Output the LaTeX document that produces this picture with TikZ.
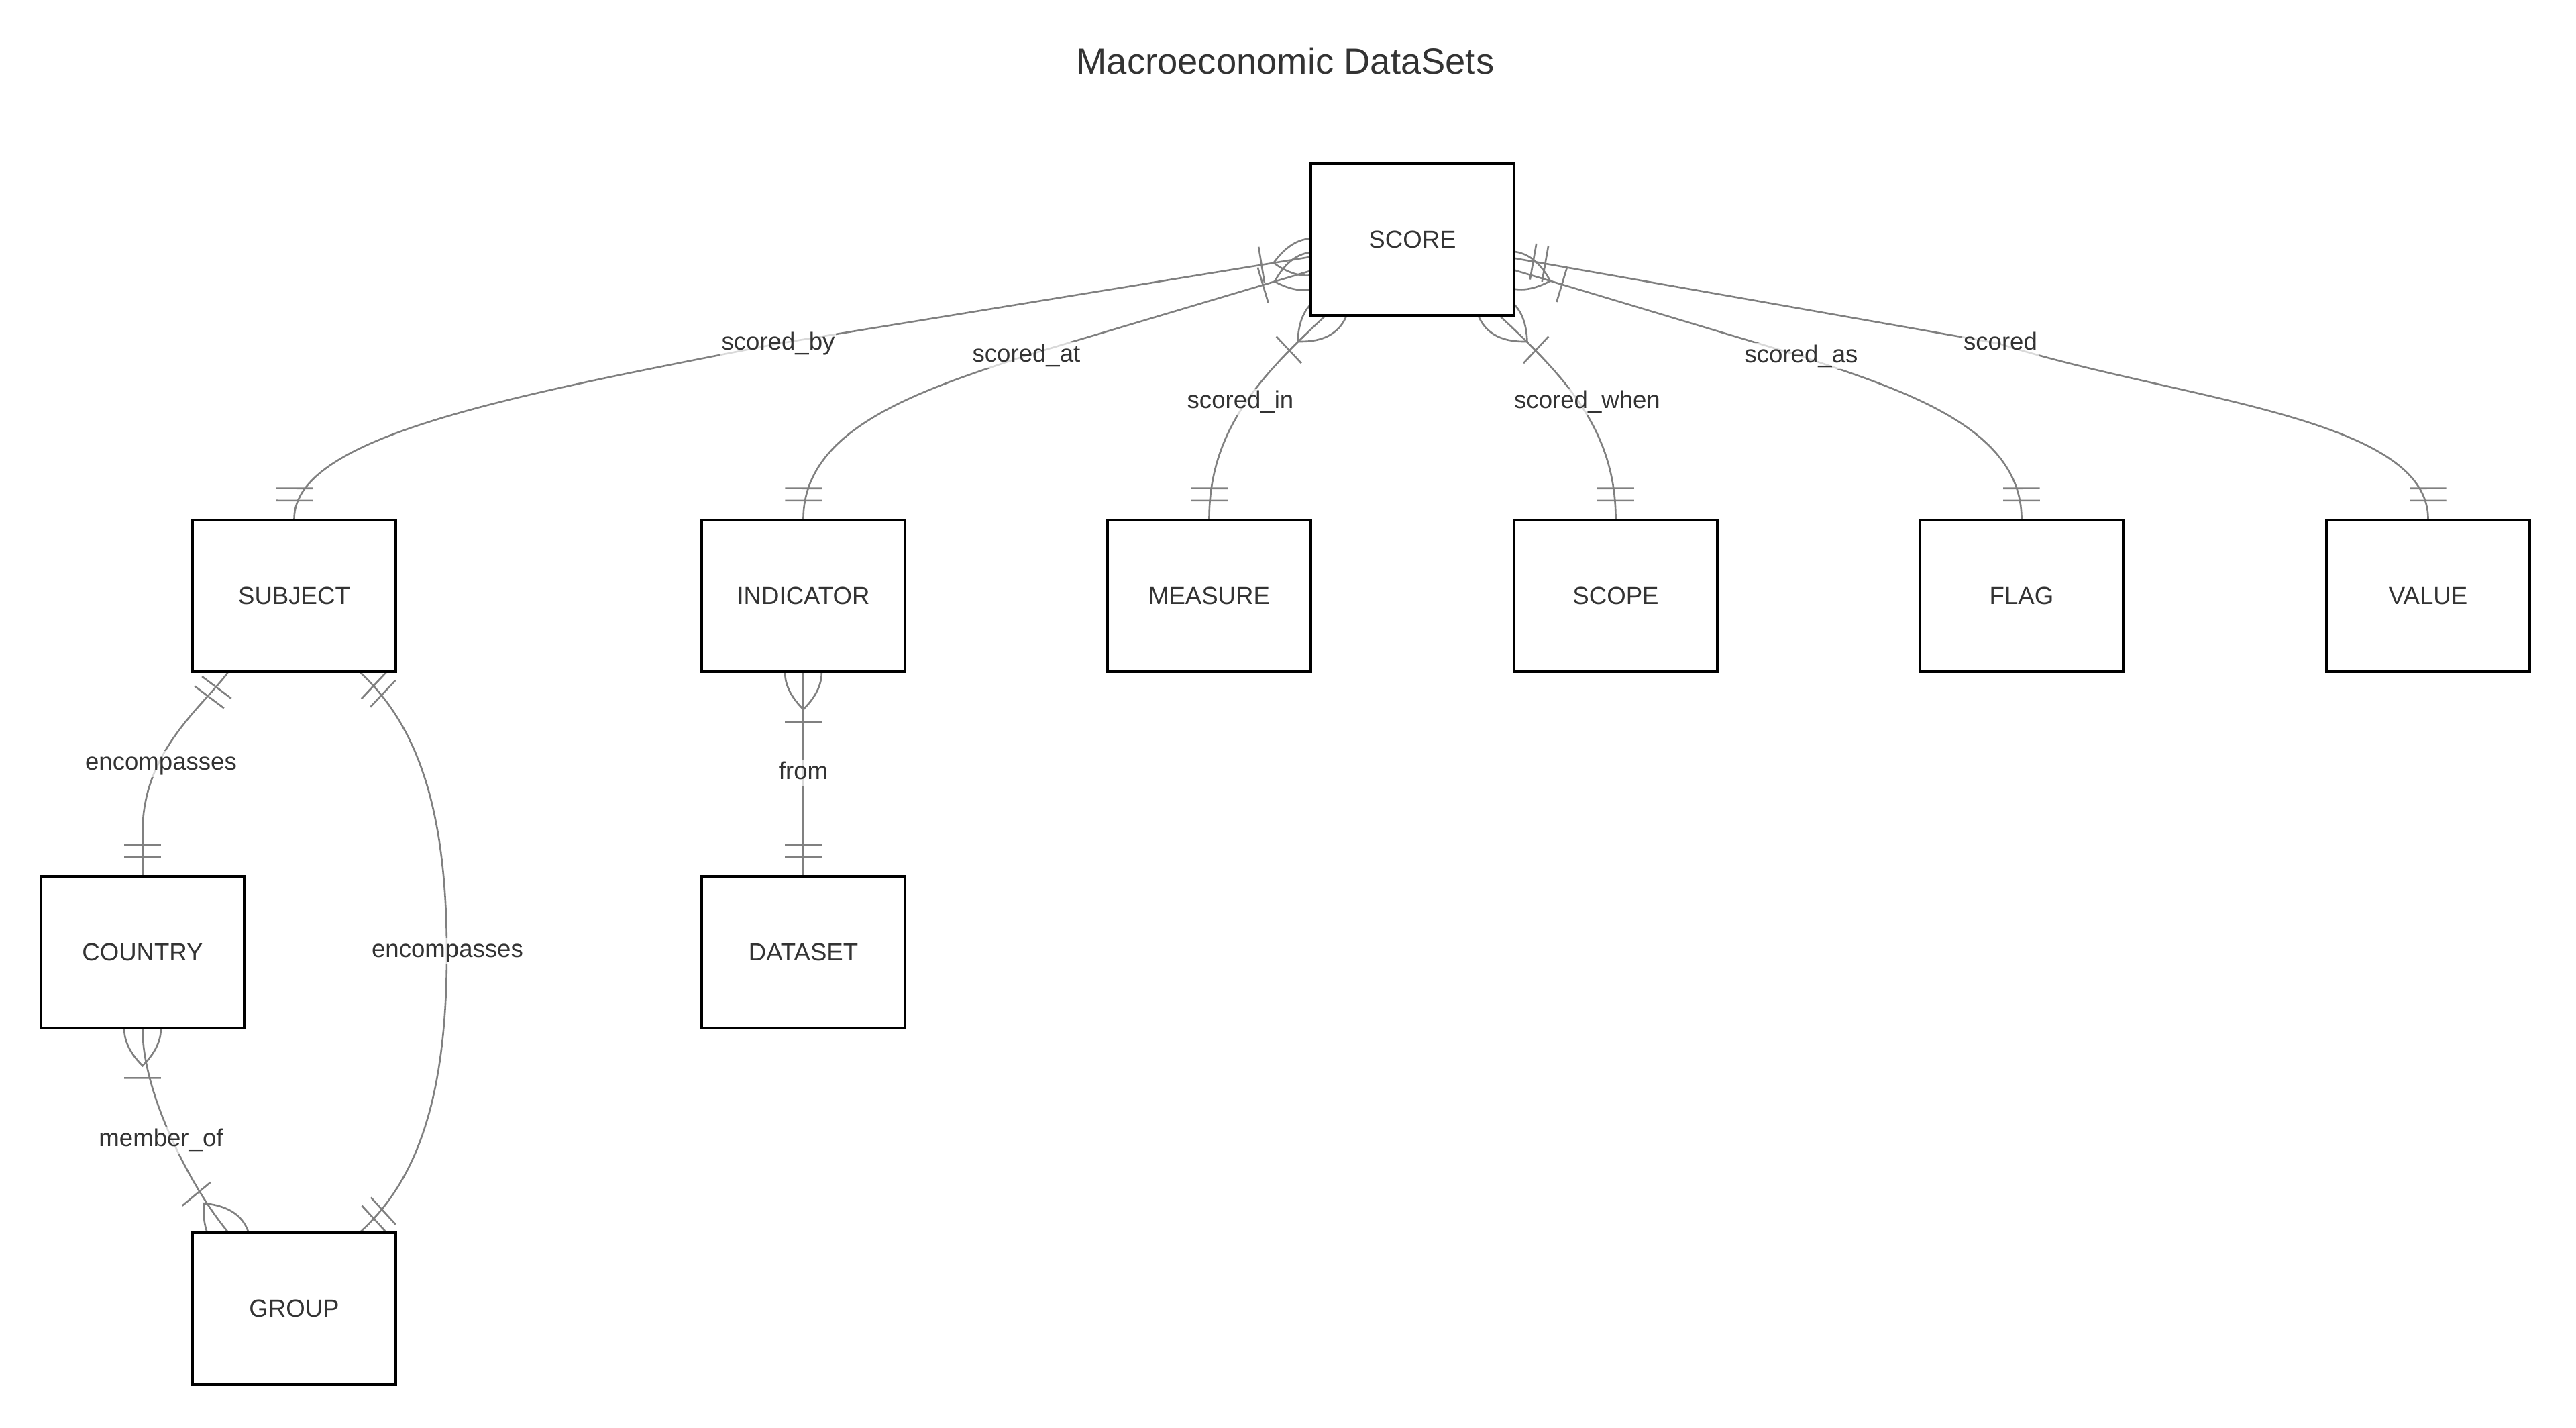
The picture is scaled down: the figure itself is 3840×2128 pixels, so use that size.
\documentclass[tikz,border=0pt]{standalone}
\usepackage{fontspec}
\setmainfont{Liberation Sans}
\usetikzlibrary{calc,decorations.markings}
\pgfdeclarelayer{bg}
\pgfsetlayers{bg,main}
\definecolor{linegray}{HTML}{808080}
\definecolor{txt}{HTML}{333333}
\def\mku{3.03}
\newcommand{\mkmanyS}{\draw[mk] (-18*\mku,0) .. controls (-6*\mku,-12*\mku) and (6*\mku,-12*\mku) .. (18*\mku,0) .. controls (6*\mku,12*\mku) and (-6*\mku,12*\mku) .. cycle; \draw[mk] (24*\mku,-9*\mku) -- (24*\mku,9*\mku);}
\newcommand{\mkmanyE}{\draw[mk] (-18*\mku,0) .. controls (-6*\mku,-12*\mku) and (6*\mku,-12*\mku) .. (18*\mku,0) .. controls (6*\mku,12*\mku) and (-6*\mku,12*\mku) .. cycle; \draw[mk] (-24*\mku,-9*\mku) -- (-24*\mku,9*\mku);}
\newcommand{\mkoneS}{\draw[mk] (9*\mku,-9*\mku) -- (9*\mku,9*\mku) (15*\mku,-9*\mku) -- (15*\mku,9*\mku);}
\newcommand{\mkoneE}{\draw[mk] (-9*\mku,-9*\mku) -- (-9*\mku,9*\mku) (-15*\mku,-9*\mku) -- (-15*\mku,9*\mku);}
\begin{document}
\begin{tikzpicture}[x=0.5pt,y=-0.5pt,
  ent/.style={draw=black, fill=white, line width=1.65pt, minimum width=151.5pt, minimum height=113pt, inner sep=0pt, text=txt, font=\fontsize{18.3pt}{22pt}\selectfont},
  lbl/.style={fill=white, fill opacity=0.7, text opacity=1, text=txt, inner sep=1pt, text height=13.5pt, text depth=4pt, font=\fontsize{18.3pt}{22pt}\selectfont},
  conn/.style={draw=linegray, line width=1.3pt},
  mk/.style={draw=linegray, line width=1.3pt, fill=none},
  mstart/.style={postaction={decorate,decoration={markings,mark=at position 0 with {#1}}}},
  mend/.style={postaction={decorate,decoration={markings,mark=at position -0.1pt with {#1}}}},
]
\useasboundingbox (0,0) rectangle (3840,2128);

\node[font=\fontsize{27.2pt}{32pt}\selectfont, text=txt] (title) at (1916,91) {Macroeconomic DataSets};

\node[ent] (score) at (2105.5,357) {SCORE};
\node[ent] (subject) at (438.5,888) {SUBJECT};
\node[ent] (indicator) at (1197.5,888) {INDICATOR};
\node[ent] (measure) at (1802.5,888) {MEASURE};
\node[ent] (scope) at (2408.5,888) {SCOPE};
\node[ent] (flag) at (3013.5,888) {FLAG};
\node[ent] (value) at (3619.5,888) {VALUE};
\node[ent] (country) at (212.5,1419) {COUNTRY};
\node[ent] (dataset) at (1197.5,1419) {DATASET};
\node[ent] (group) at (438.5,1950) {GROUP};

\begin{pgfonlayer}{bg}
\fill[white] (0,0) rectangle (3840,2128);
\coordinate (sbS) at ($(score.west)+(0,26)$);
\coordinate (saS) at ($(score.west)+(0,47)$);
\coordinate (siS) at ($(score.south west)+(22,0)$);
\coordinate (swS) at ($(score.south east)+(-22,0)$);
\coordinate (sasS) at ($(score.east)+(0,46)$);
\coordinate (scS) at ($(score.east)+(0,28)$);
\coordinate (enlS) at ($(subject.south west)+(54,0)$);
\coordinate (enrS) at ($(subject.south east)+(-54,0)$);
\coordinate (enrE) at ($(group.north east)+(-54,0)$);
\coordinate (memE) at ($(group.north west)+(54,0)$);

\draw[conn, mstart=\mkmanyS, mend=\mkoneE] (sbS) -- (1160,512) .. controls (760,590) and (438.5,650) .. (subject.north);
\draw[conn, mstart=\mkmanyS, mend=\mkoneE] (saS) -- (1529,530) .. controls (1380,580) and (1197.5,635) .. (indicator.north);
\draw[conn, mstart=\mkmanyS, mend=\mkoneE] (siS) .. controls (1880,560) and (1802.5,640) .. (measure.north);
\draw[conn, mstart=\mkmanyS, mend=\mkoneE] (swS) .. controls (2331,560) and (2408.5,640) .. (scope.north);
\draw[conn, mstart=\mkmanyS, mend=\mkoneE] (sasS) -- (2682,530) .. controls (2831,580) and (3013.5,635) .. (flag.north);
\draw[conn, mstart=\mkoneS, mend=\mkoneE] (scS) -- (2980,512) .. controls (3240,595) and (3619.5,620) .. (value.north);
\draw[conn, mstart=\mkmanyS, mend=\mkoneE] (indicator.south) -- (dataset.north);
\draw[conn, mstart=\mkoneS, mend=\mkoneE] (enlS) .. controls (300,1055) and (212.5,1120) .. (212.5,1240) -- (country.north);
\draw[conn, mstart=\mkoneS, mend=\mkoneE] (enrS) .. controls (620,1080) and (666,1200) .. (666,1420) .. controls (666,1640) and (620,1760) .. (enrE);
\draw[conn, mstart=\mkmanyS, mend=\mkmanyE] (country.south) .. controls (212.5,1630) and (285,1770) .. (memE);
\end{pgfonlayer}

\node[lbl] (l1) at (1160,512) {scored\_by};
\node[lbl] (l2) at (1530,530) {scored\_at};
\node[lbl] (l3) at (1849,599) {scored\_in};
\node[lbl] (l4) at (2366,599) {scored\_when};
\node[lbl] (l5) at (2685,531) {scored\_as};
\node[lbl] (l6) at (2982,512) {scored};
\node[lbl] (l7) at (240,1138) {encompasses};
\node[lbl] (l8) at (667,1417) {encompasses};
\node[lbl] (l9) at (1197.5,1152) {from};
\node[lbl] (l10) at (240,1699) {member\_of};
\end{tikzpicture}
\end{document}
